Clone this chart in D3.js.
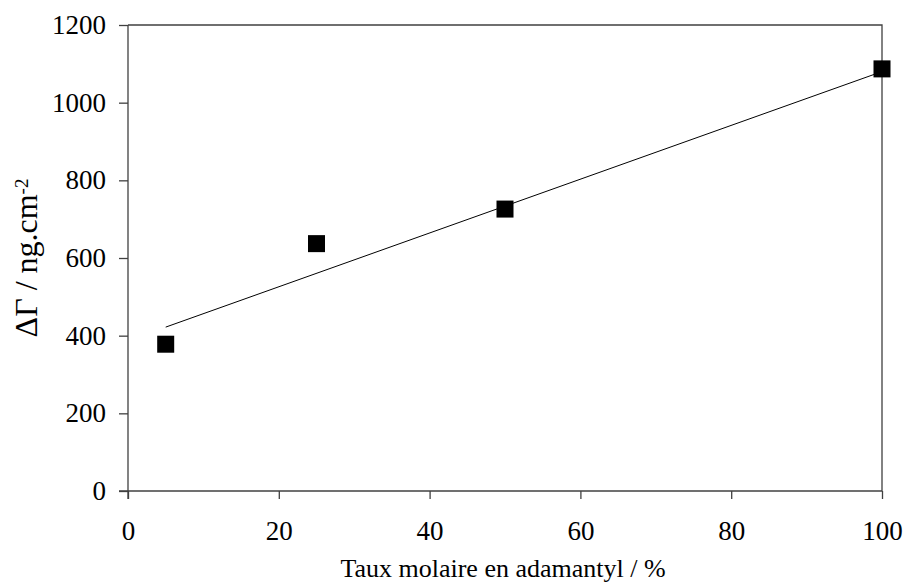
<!DOCTYPE html>
<html>
<head>
<meta charset="utf-8">
<script src="https://cdn.jsdelivr.net/npm/d3@7"></script>
<style>
  html, body { margin: 0; padding: 0; background: #fff; }
  svg { display: block; }
</style>
</head>
<body>
<svg id="chart" width="904" height="583"></svg>
<script>
// ---- Data ----
const xValues = [5, 25, 50, 100];          // Taux molaire en adamantyl (%)
const yValues = [378, 637, 726, 1087];     // ΔΓ (ng.cm-2)
const trendX = [5, 100];                   // linear trend line end points
const trendY = [422, 1080];
const xTicks = [0, 20, 40, 60, 80, 100];
const yTicks = [0, 200, 400, 600, 800, 1000, 1200];

// ---- Layout ----
const FONT = "'Liberation Serif', 'Times New Roman', Tinos, 'DejaVu Serif', serif";
const W = 904, H = 583;
const margin = { left: 128, right: 22, top: 25, bottom: 92 };
const svg = d3.select("#chart").attr("font-family", FONT);

const x = d3.scaleLinear().domain([0, 100]).range([margin.left, W - margin.right]);
const y = d3.scaleLinear().domain([0, 1200]).range([H - margin.bottom, margin.top]);

const axisColor = "#404040";

// plot border (top & right)
svg.append("path")
  .attr("d", `M${x(0)},${y(1200)}H${x(100)}V${y(0)}`)
  .attr("fill", "none").attr("stroke", axisColor).attr("stroke-width", 1.3);

// x axis
const gx = svg.append("g")
  .attr("transform", `translate(0,${y(0)})`)
  .call(d3.axisBottom(x).tickValues(xTicks).tickFormat(d3.format("d"))
    .tickSize(8).tickPadding(22).tickSizeOuter(0));
// y axis
const gy = svg.append("g")
  .attr("transform", `translate(${x(0)},0)`)
  .call(d3.axisLeft(y).tickValues(yTicks).tickFormat(d3.format("d"))
    .tickSize(9).tickPadding(13).tickSizeOuter(0));

[gx, gy].forEach(g => {
  g.attr("font-family", FONT).attr("font-size", 27);
  g.select(".domain").attr("stroke", axisColor).attr("stroke-width", 1.3);
  g.selectAll(".tick line").attr("stroke", axisColor).attr("stroke-width", 1.3);
  g.selectAll(".tick text").attr("fill", "#000");
});
// extend the domain lines past the origin like the reference
gx.select(".domain").attr("d", `M${x(0) - 9},0H${x(100)}`);
gy.select(".domain").attr("d", `M0,${y(0) + 8}V${y(1200)}`);

// trend line
svg.append("line")
  .attr("x1", x(trendX[0])).attr("y1", y(trendY[0]))
  .attr("x2", x(trendX[1])).attr("y2", y(trendY[1]))
  .attr("stroke", "#000").attr("stroke-width", 1);

// points (filled squares)
const s = 17;
svg.append("g").selectAll("rect")
  .data(xValues.map((v, i) => [v, yValues[i]]))
  .join("rect")
  .attr("x", d => x(d[0]) - s / 2)
  .attr("y", d => y(d[1]) - s / 2)
  .attr("width", s).attr("height", s)
  .attr("fill", "#000");

// x axis title
svg.append("text")
  .attr("x", (338 + 668) / 2).attr("y", 577)
  .attr("text-anchor", "middle")
  .attr("font-family", FONT)
  .attr("font-size", 26)
  .text("Taux molaire en adamantyl / %");

// y axis title
const yt = svg.append("text")
  .attr("transform", `translate(37,258) rotate(-90)`)
  .attr("text-anchor", "middle")
  .attr("font-family", FONT)
  .attr("font-size", 32);
yt.append("tspan").text("ΔΓ / ng.cm");
yt.append("tspan").attr("dy", "-0.5em").attr("font-size", 19).text("-2");
</script>
</body>
</html>
